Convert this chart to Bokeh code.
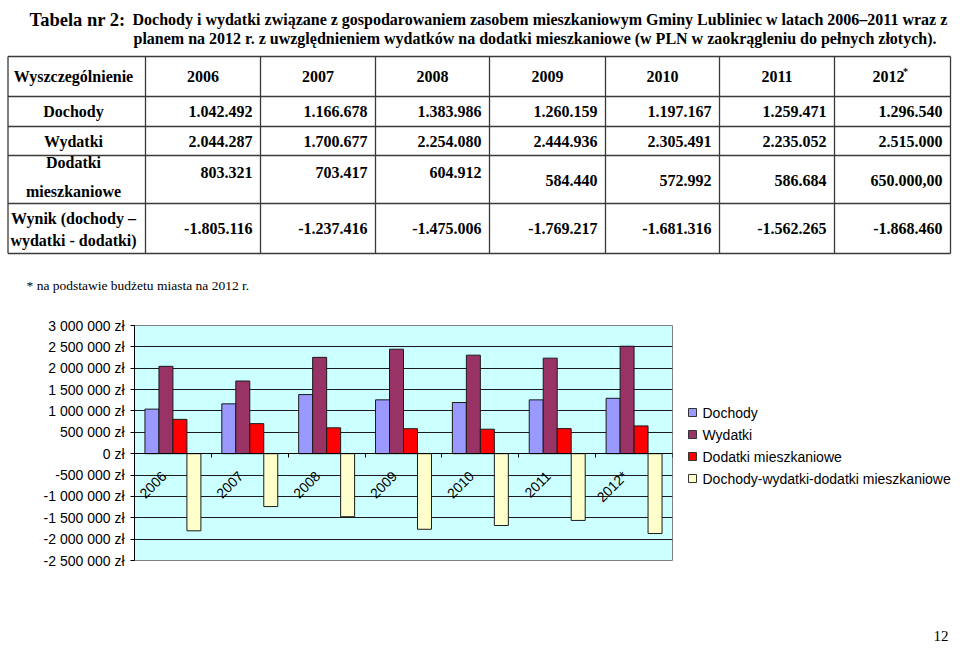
import math
from bokeh.plotting import figure
from bokeh.models import ColumnDataSource, Range1d, FixedTicker
from bokeh.layouts import column, row
from bokeh.core.properties import value
from bokeh.transform import dodge
from bokeh.embed import file_html
from bokeh.resources import INLINE

# ---------------- data ----------------
years = ["2006", "2007", "2008", "2009", "2010", "2011", "2012"]
year_axis_labels = ["2006", "2007", "2008", "2009", "2010", "2011", "2012*"]
dochody = [1042492, 1166678, 1383986, 1260159, 1197167, 1259471, 1296540]
wydatki = [2044287, 1700677, 2254080, 2444936, 2305491, 2235052, 2515000]
dodatki = [803321, 703417, 604912, 584440, 572992, 586684, 650000]
wynik = [-1805116, -1237416, -1475006, -1769217, -1681316, -1562265, -1868460]
dodatki_decimals = [0, 0, 0, 0, 0, 0, 2]

series_names = ["Dochody", "Wydatki", "Dodatki mieszkaniowe",
                "Dochody-wydatki-dodatki mieszkaniowe"]
series_colors = ["#9999FF", "#993366", "#FF0000", "#FFFFCC"]

y_ticks = [-2500000, -2000000, -1500000, -1000000, -500000, 0,
           500000, 1000000, 1500000, 2000000, 2500000, 3000000]

title_head = "Tabela nr 2:"
title_line1 = ("Dochody i wydatki związane z gospodarowaniem zasobem mieszkaniowym "
               "Gminy Lubliniec w latach 2006–2011 wraz z")
title_line2 = ("planem na 2012 r. z uwzględnieniem wydatków na dodatki mieszkaniowe "
               "(w PLN w zaokrągleniu do pełnych złotych).")
header_label = "Wyszczególnienie"
row_labels = [["Dochody"], ["Wydatki"], ["Dodatki", "mieszkaniowe"],
              ["Wynik (dochody –", "wydatki - dodatki)"]]
footnote = "* na podstawie budżetu miasta na 2012 r."
page_number = "12"


def pl_number(v, dec=0):
    s = f"{abs(v):,}".replace(",", ".")
    if dec:
        s += "," + "0" * dec
    return ("-" if v < 0 else "") + s


def pln_tick(v):
    return f"{v:,}".replace(",", " ") + " zł"


SERIF = value("Liberation Serif")
SANS = value("Liberation Sans")


def page_fig(x0, x1, y0, y1):
    f = figure(width=x1 - x0, height=y1 - y0, x_range=Range1d(x0, x1),
               y_range=Range1d(y1, y0), x_axis_type=None, y_axis_type=None,
               toolbar_location=None, output_backend="svg", min_border=0,
               outline_line_color=None, background_fill_color="white",
               border_fill_color="white")
    f.frame_align = False
    return f


# ---------------- top: title + table ----------------
top = page_fig(0, 960, 0, 308)

top.text(x=[29], y=[19], text=[title_head], text_font=SERIF, text_font_style="bold",
         text_font_size="18.5px", text_baseline="alphabetic", text_align="left")
top.text(x=[132, 133], y=[19, 38], text=[title_line1, title_line2], text_font=SERIF,
         text_font_style="bold", text_font_size="16px", text_baseline="alphabetic",
         text_align="left")

col_edges = [7.5, 145, 260, 375, 489, 605, 719, 834, 950]
row_edges = [56, 96, 126, 155, 203, 253]
top.segment(x0=col_edges, y0=[row_edges[0]] * len(col_edges), x1=col_edges,
            y1=[row_edges[-1]] * len(col_edges), line_color="#3a3a3a", line_width=1.3)
top.segment(x0=[col_edges[0]] * len(row_edges), y0=row_edges,
            x1=[col_edges[-1]] * len(row_edges), y1=row_edges,
            line_color="#3a3a3a", line_width=1.3)

label_x = 73
col_centers = [(col_edges[i + 1] + col_edges[i + 2]) / 2 for i in range(len(years))]
top.text(x=[label_x], y=[76], text=[header_label], text_font=SERIF, text_font_style="bold",
         text_font_size="16px", text_align="center", text_baseline="middle")
top.text(x=[c - 4 if y == years[-1] else c for c, y in zip(col_centers, years)],
         y=[76] * len(years), text=years, text_font=SERIF, text_font_style="bold",
         text_font_size="16px", text_align="center", text_baseline="middle")
top.text(x=[col_centers[-1] + 13], y=[71], text=["*"], text_font=SERIF,
         text_font_style="bold", text_font_size="10px", text_align="center",
         text_baseline="middle")

label_lines_y = [[111], [140.5], [162, 191], [218, 240]]
for lines, ys in zip(row_labels, label_lines_y):
    top.text(x=[label_x] * len(lines), y=ys, text=lines, text_font=SERIF,
             text_font_style="bold", text_font_size="16px", text_align="center",
             text_baseline="middle")

right_x = [col_edges[i + 2] - 8 for i in range(len(years))]
rows_text = [
    [pl_number(v) for v in dochody],
    [pl_number(v) for v in wydatki],
    [pl_number(v, d) for v, d in zip(dodatki, dodatki_decimals)],
    [pl_number(v) for v in wynik],
]
rows_y = [
    [111] * 7,
    [140.5] * 7,
    [172, 172, 172, 180, 180, 180, 180],
    [228] * 7,
]
for txt, ys in zip(rows_text, rows_y):
    top.text(x=right_x, y=ys, text=txt, text_font=SERIF, text_font_style="bold",
             text_font_size="16px", text_align="right", text_baseline="middle")

top.text(x=[26], y=[285], text=[footnote], text_font=SERIF, text_font_size="13.5px",
         text_align="left", text_baseline="middle")

# ---------------- middle: chart ----------------
chart = figure(width=680, height=312, x_range=Range1d(0, len(years)),
               y_range=Range1d(y_ticks[0], y_ticks[-1]), toolbar_location=None,
               output_backend="svg", min_border_left=134, min_border_right=8,
               min_border_top=17, min_border_bottom=60,
               background_fill_color="#CCFFFF", border_fill_color="white",
               outline_line_color="#808080", outline_line_width=1)
chart.frame_align = False

src = ColumnDataSource(dict(
    xc=[i + 0.5 for i in range(len(years))],
    zero=[0] * len(years),
    label=year_axis_labels,
    dochody=dochody, wydatki=wydatki, dodatki=dodatki, wynik=wynik,
))

chart.xgrid.visible = False
chart.ygrid.ticker = FixedTicker(ticks=y_ticks)
chart.ygrid.grid_line_color = "#1a1a1a"
chart.ygrid.grid_line_width = 1

bar_w = 0.182
for k, (col, color) in enumerate(zip(["dochody", "wydatki", "dodatki", "wynik"], series_colors)):
    chart.vbar(x=dodge("xc", (k - 1.5) * bar_w, range=chart.x_range), top=col, bottom=0,
               width=bar_w, fill_color=color, line_color="#1a1a1a", line_width=1,
               source=src)

yax = chart.yaxis[0]
yax.ticker = FixedTicker(ticks=y_ticks)
yax.major_label_overrides = {t: pln_tick(t) for t in y_ticks}
yax.major_label_text_font = "Liberation Sans"
yax.major_label_text_font_size = "14px"
yax.major_label_text_color = "black"
yax.axis_line_color = "black"
yax.major_tick_line_color = "black"
yax.major_tick_out = 4
yax.major_tick_in = 0
yax.minor_tick_line_color = None
yax.major_label_standoff = 6

x_bounds = list(range(len(years) + 1))
xax = chart.xaxis[0]
xax.fixed_location = 0
xax.ticker = FixedTicker(ticks=x_bounds)
xax.major_label_overrides = {b: "" for b in x_bounds}
xax.axis_line_color = "black"
xax.major_tick_line_color = "black"
xax.major_tick_out = 4
xax.major_tick_in = 0
xax.minor_tick_line_color = None

chart.text(x="xc", y="zero", text="label", source=src, angle=math.pi / 4,
           text_align="right", text_baseline="middle", x_offset=-9, y_offset=20,
           text_font=SANS, text_font_size="14px", text_color="black")

# ---------------- legend panel ----------------
leg = page_fig(680, 960, 308, 620)
leg_src = ColumnDataSource(dict(
    x=[692] * len(series_names),
    tx=[702] * len(series_names),
    y=[412 + 22 * i for i in range(len(series_names))],
    name=series_names,
    color=series_colors,
))
leg.scatter(x="x", y="y", marker="square", size=8, fill_color="color",
            line_color="#333333", line_width=1, source=leg_src)
leg.text(x="tx", y="y", text="name", text_font=SANS, text_font_size="14px",
         text_align="left", text_baseline="middle", text_color="black", source=leg_src)

# ---------------- bottom: page number ----------------
foot = page_fig(0, 960, 620, 646)
foot.text(x=[948], y=[635], text=[page_number], text_font=SERIF, text_font_size="15px",
          text_align="right", text_baseline="middle")

layout = column(top, row(chart, leg), foot)
open("out.html", "w").write(file_html(layout, INLINE))
